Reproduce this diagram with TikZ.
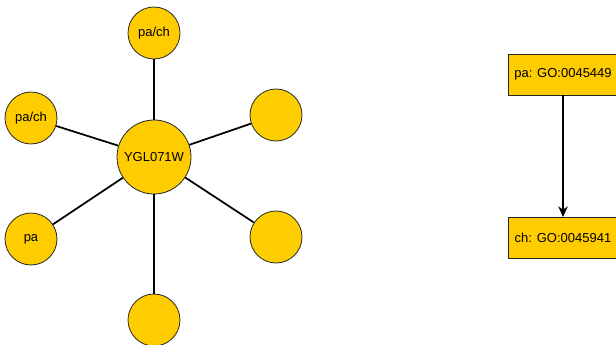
\documentclass[tikz,border=0pt]{standalone}
\usepackage{fontspec}
\setmainfont{Liberation Sans}
\usepackage{tikz}
\usetikzlibrary{positioning}
\usetikzlibrary{arrows,arrows.meta}
\definecolor{goyellow}{HTML}{FFCC00}

\begin{document}
\begin{tikzpicture}[x=0.75pt,y=-0.75pt,
	term/.style={circle,draw=black!85,fill=goyellow,line width=0.6pt,minimum size=39pt,inner sep=0pt,font=\fontsize{9.75}{11}\selectfont},
	hub/.style={term,minimum size=55.5pt},
	gobox/.style={rectangle,draw=black!85,fill=goyellow,line width=0.6pt,minimum width=82.5pt,minimum height=30.75pt,inner sep=0pt,font=\fontsize{9.75}{11}\selectfont},
	spoke/.style={line width=1.3pt}]
	\useasboundingbox (0,0) rectangle (616,345);
	% star of terms round the gene
	\node [hub] (gene) at (154,157) {YGL071W};
	\node [term] (t1) at (154,33) {pa/ch};
	\node [term] (t2) at (31,118) {pa/ch};
	\node [term] (t3) at (31,239) {pa};
	\node [term] (t4) at (154,320) {};
	\node [term] (t5) at (276,237) {};
	\node [term] (t6) at (276,115) {};
	\foreach \t in {t1,t2,t3,t4,t5,t6}
		\draw [spoke] (gene) -- (\t);
	% parent and child GO terms
	\node [gobox] (pa) at (563,74.5) {pa: GO:0045449};
	\node [gobox] (ch) at (563,238) {ch: GO:0045941};
	\draw [spoke,-{Stealth[length=8pt,width=7pt,inset=2.5pt]}] (pa) -- (ch);
\end{tikzpicture}
\end{document}
